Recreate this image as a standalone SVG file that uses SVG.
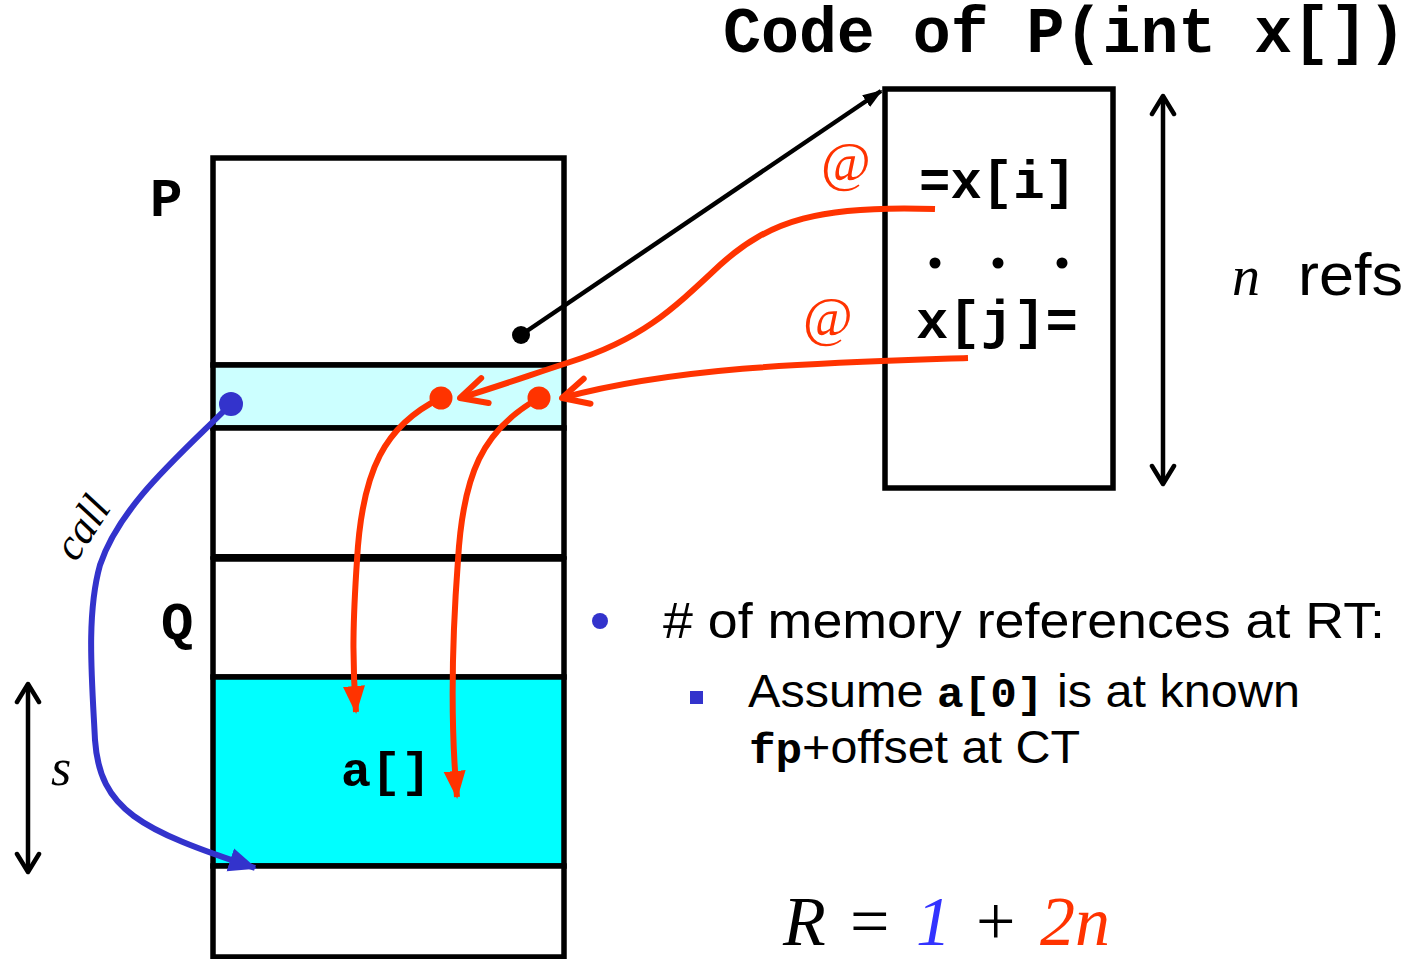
<svg xmlns="http://www.w3.org/2000/svg" width="1423" height="959" viewBox="0 0 1423 959">
<defs>
<style>
.box{fill:#fff;stroke:#000;stroke-width:5.5}
.mono{font-family:"Liberation Mono","Courier New",monospace;font-weight:bold}
.sans{font-family:"Liberation Sans",Arial,sans-serif}
.serif{font-family:"Liberation Serif","Times New Roman",serif}
.red{stroke:#ff3300;stroke-width:6;fill:none}
.blue{stroke:#3333cc;stroke-width:6;fill:none}
.blk{stroke:#000;stroke-width:4.5;fill:none}
</style>
<marker id="chevR" viewBox="0 0 36 36" refX="32" refY="18" markerWidth="36" markerHeight="36" markerUnits="userSpaceOnUse" orient="auto">
<path d="M6,5 L32,18 L6,31" fill="none" stroke="#ff3300" stroke-width="6" stroke-linecap="round" stroke-linejoin="round"/>
</marker>
<marker id="triR" viewBox="0 0 28 26" refX="26" refY="13" markerWidth="28" markerHeight="26" markerUnits="userSpaceOnUse" orient="auto">
<path d="M0,2 L28,13 L0,24 Z" fill="#ff3300"/>
</marker>
<marker id="triB" viewBox="0 0 28 28" refX="26" refY="14" markerWidth="28" markerHeight="28" markerUnits="userSpaceOnUse" orient="auto">
<path d="M0,2 L28,14 L0,26 Z" fill="#3333cc"/>
</marker>
<marker id="triK" viewBox="0 0 20 20" refX="18" refY="10" markerWidth="20" markerHeight="20" markerUnits="userSpaceOnUse" orient="auto">
<path d="M0,3 L20,10 L0,17 Z" fill="#000"/>
</marker>
<marker id="chevK" viewBox="0 0 26 28" refX="23" refY="14" markerWidth="26" markerHeight="28" markerUnits="userSpaceOnUse" orient="auto-start-reverse">
<path d="M5,3 L23,14 L5,25" fill="none" stroke="#000" stroke-width="4.5" stroke-linecap="round" stroke-linejoin="round"/>
</marker>
</defs>
<rect width="1423" height="959" fill="#fff"/>

<g id="title"><text x="723" y="52" class="mono" font-size="64" textLength="683" lengthAdjust="spacingAndGlyphs">Code of P(int x[])</text></g>

<g id="stack">
<rect class="box" x="213" y="158" width="351" height="207"/>
<rect class="box" x="213" y="365" width="351" height="63" style="fill:#ccffff"/>
<rect class="box" x="213" y="428" width="351" height="129"/>
<rect class="box" x="213" y="559" width="351" height="118"/>
<line x1="213" y1="557" x2="564" y2="557" stroke="#000" stroke-width="6"/>
<rect class="box" x="213" y="677" width="351" height="189" style="fill:#00ffff"/>
<rect class="box" x="213" y="866" width="351" height="91"/>
<text x="150" y="216" class="mono" font-size="54">P</text>
<text x="161" y="640" class="mono" font-size="54">Q</text>
<text x="341" y="786" class="mono" font-size="48" textLength="90" lengthAdjust="spacingAndGlyphs">a[]</text>
</g>

<g id="code">
<rect class="box" x="885" y="89" width="228" height="399"/>
<text x="919" y="198" class="mono" font-size="53" textLength="157" lengthAdjust="spacingAndGlyphs">=x[i]</text>
<circle cx="935" cy="263" r="5.5"/><circle cx="998" cy="263" r="5.5"/><circle cx="1062" cy="263" r="5.5"/>
<text x="916" y="338" class="mono" font-size="53" textLength="162" lengthAdjust="spacingAndGlyphs">x[j]=</text>
</g>

<g id="connectors">
<line class="blk" x1="521" y1="335" x2="881" y2="91" marker-end="url(#triK)"/>
<circle cx="521" cy="335" r="9" fill="#000"/>
<path class="red" d="M935,209 C 820,205 770,220 720,265 C 670,312 640,340 570,362 C 530,375 500,386 460,398" marker-end="url(#chevR)"/>
<path class="red" d="M968,358 C 820,363 680,366 562,398" marker-end="url(#chevR)"/>
<path class="red" d="M441,398 C 385,425 362,470 357,560 C 353,620 352,660 356,712" marker-end="url(#triR)"/>
<path class="red" d="M539,398 C 482,430 463,475 458,560 C 452,640 450,720 457,797" marker-end="url(#triR)"/>
<circle cx="441" cy="398" r="11.5" fill="#ff3300"/>
<circle cx="539" cy="398" r="11.5" fill="#ff3300"/>
<path class="blue" d="M231,404 C 180,455 120,505 100,565 C 86,615 92,680 95,740 C 100,810 140,830 255,868" marker-end="url(#triB)"/>
<circle cx="231" cy="404" r="12" fill="#3333cc"/>
<line class="blk" x1="28" y1="684" x2="28" y2="872" marker-start="url(#chevK)" marker-end="url(#chevK)"/>
<line class="blk" x1="1163" y1="96" x2="1163" y2="484" marker-start="url(#chevK)" marker-end="url(#chevK)"/>
</g>

<g id="labels">
<text x="821" y="180" class="serif" font-size="54" fill="#ff3300">@</text>
<text x="803" y="335" class="serif" font-size="54" fill="#ff3300">@</text>
<text class="serif" font-size="44" font-style="italic" transform="translate(76,563) rotate(-57)">call</text>
<text x="51" y="785" class="serif" font-size="52" font-style="italic">s</text>
<text x="1232" y="295" class="serif" font-size="56" font-style="italic">n</text>
<text x="1298" y="295" class="sans" font-size="59" textLength="105" lengthAdjust="spacingAndGlyphs">refs</text>
</g>

<g id="bullets">
<circle cx="600" cy="621" r="8" fill="#3333cc"/>
<text x="663" y="638" class="sans" font-size="50" textLength="722" lengthAdjust="spacingAndGlyphs"># of memory references at RT:</text>
<rect x="690" y="691" width="13" height="13" fill="#3333cc"/>
<text x="748" y="707" class="sans" font-size="46" textLength="552" lengthAdjust="spacingAndGlyphs">Assume <tspan class="mono" font-size="42">a[0]</tspan> is at known</text>
<text x="749" y="763" class="sans" font-size="46" textLength="331" lengthAdjust="spacingAndGlyphs"><tspan class="mono" font-size="42">fp</tspan>+offset at CT</text>
</g>

<g id="formula" class="serif" font-size="70">
<text x="783" y="945" font-style="italic">R</text>
<text x="850" y="945">=</text>
<text x="916" y="945" font-style="italic" fill="#3333ff">1</text>
<text x="976" y="945">+</text>
<text x="1040" y="945" font-style="italic" fill="#ff3300">2n</text>
</g>
</svg>
